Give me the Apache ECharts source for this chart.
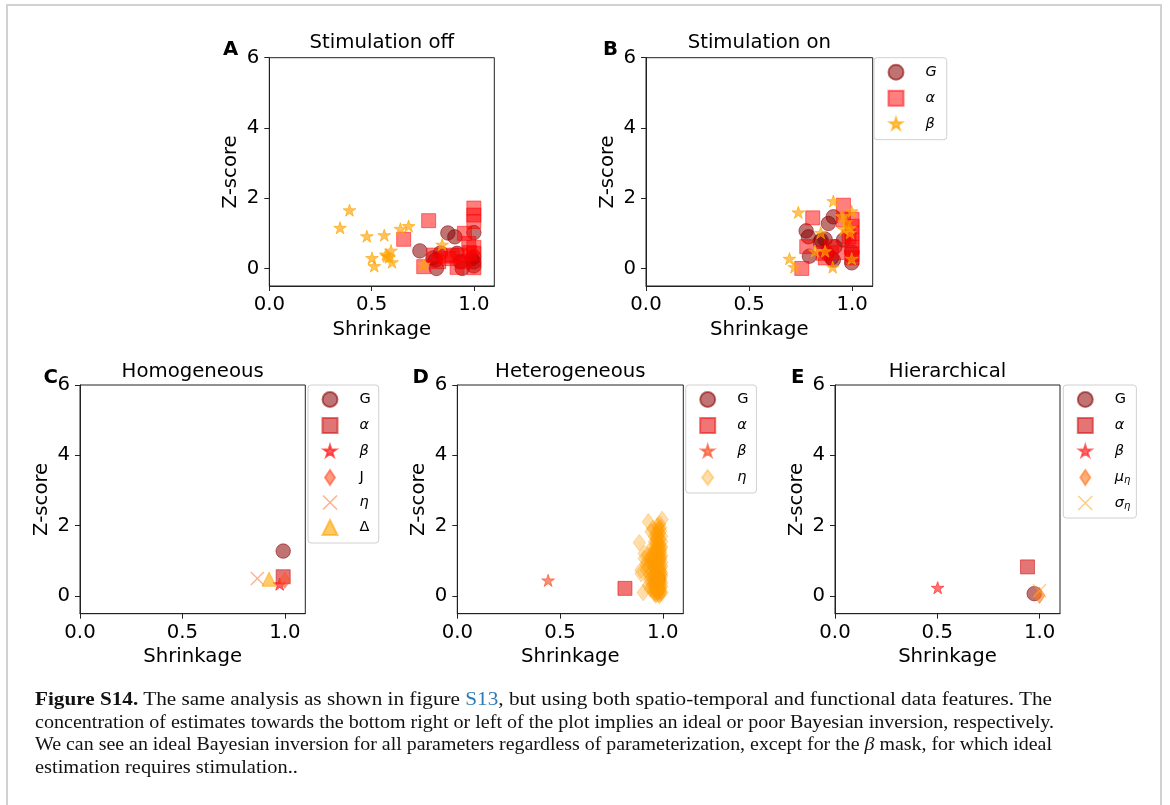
<!DOCTYPE html>
<html>
<head>
<meta charset="utf-8">
<script src="https://cdn.jsdelivr.net/npm/echarts@6/dist/echarts.min.js"></script>
<style>
  html, body { margin: 0; padding: 0; background: #fff; }
  #wrap { position: relative; width: 1170px; height: 805px; overflow: hidden; background: #fff; }
  #chart { position: absolute; left: 0; top: 0; width: 1170px; height: 805px; }
  #frame { position: absolute; left: 6px; top: 4px; width: 1156px; height: 840px;
           border: 2px solid #d2d2d2; box-sizing: border-box; pointer-events: none; }
  #caption { position: absolute; left: 35px; top: 688px; width: 1017px;
             font-family: "Liberation Serif", serif; font-size: 19.6px; line-height: 22.6px; color: #111; }
  #caption .ln { white-space: nowrap; height: 22.6px; }
  #caption .ln span.t { display: inline-block; transform-origin: 0 50%; }
  #caption b { font-weight: bold; }
  #caption .ref { color: #2a7ab5; }
</style>
</head>
<body>
<div id="wrap">
  <div id="chart"></div>
  <div id="frame"></div>
  <div id="caption">
    <div class="ln"><span class="t" data-w="1017"><b>Figure S14.</b> The same analysis as shown in figure <span class="ref">S13</span>, but using both spatio-temporal and functional data features. The</span></div>
    <div class="ln"><span class="t" data-w="1019">concentration of estimates towards the bottom right or left of the plot implies an ideal or poor Bayesian inversion, respectively.</span></div>
    <div class="ln"><span class="t" data-w="1017">We can see an ideal Bayesian inversion for all parameters regardless of parameterization, except for the <i>β</i> mask, for which ideal</span></div>
    <div class="ln"><span class="t">estimation requires stimulation..</span></div>
  </div>
</div>
<script>
// ---- data: [shrinkage, z-score] per parameter ----
const A_G = [[0.736,0.50],[0.873,1.01],[0.907,0.90],[1.0,1.02],[0.812,0.24],[0.817,0.0],[0.837,0.44],[0.935,0.19],[0.943,0.0],[1.0,0.33],[1.0,0.07],[1.0,0.19],[0.918,0.43],[0.80,0.30],[0.99,0.28]];
const A_alpha = [[0.779,1.36],[0.657,0.83],[1.0,1.72],[1.0,1.52],[1.0,1.33],[0.954,1.0],[0.975,0.71],[1.0,0.60],[1.0,0.43],[1.0,0.02],[0.755,0.05],[0.804,0.38],[0.861,0.35],[0.894,0.38],[0.935,0.38],[0.918,0.03],[0.95,0.19],[0.828,0.19],[0.877,0.28],[0.98,0.45]];
const A_beta = [[0.392,1.64],[0.346,1.14],[0.477,0.90],[0.562,0.93],[0.641,1.11],[0.681,1.19],[0.502,0.28],[0.513,0.05],[0.575,0.33],[0.595,0.49],[0.60,0.16],[0.57,0.38],[0.585,0.30],[0.845,0.66],[0.755,0.09]];

const B_G = [[0.777,1.07],[0.788,0.90],[0.909,1.47],[0.885,1.28],[0.869,0.83],[0.845,0.76],[0.793,0.35],[0.909,0.24],[0.958,0.81],[0.998,0.16],[0.998,0.47],[0.877,0.43],[0.917,0.62],[0.85,0.80],[0.90,0.30]];
const B_alpha = [[0.756,0.0],[0.809,1.44],[0.958,1.80],[1.0,1.40],[1.0,1.20],[1.0,1.0],[1.0,0.80],[1.0,0.60],[1.0,0.40],[1.0,0.30],[0.78,0.62],[0.86,0.43],[0.90,0.62],[0.958,1.38],[0.93,0.45],[0.985,0.90],[0.87,0.30]];
const B_beta = [[0.739,1.58],[0.696,0.26],[0.72,0.02],[0.909,1.90],[0.906,0.02],[0.998,1.61],[0.95,1.47],[0.99,1.14],[0.99,1.0],[0.998,0.26],[0.82,0.47],[0.869,0.47],[0.848,1.0],[0.97,1.30],[0.96,1.10]];

const C_G = [[0.992,1.28]];
const C_alpha = [[0.992,0.55]];
const C_beta = [[0.975,0.32]];
const C_J = [[1.0,0.45]];
const C_eta = [[0.866,0.50]];
const C_Delta = [[0.923,0.48]];

const D_G = [[0.976,0.50]];
const D_alpha = [[0.816,0.22]];
const D_beta = [[0.442,0.43]];
const D_eta = [[0.886,1.52],[0.93,2.11],[0.997,2.18],[0.905,0.10],[0.894,0.64],[0.951,1.92],[0.984,1.92],[0.91,1.07],[0.927,1.17],[0.951,1.26],[0.935,0.60],[0.96,0.22],[0.984,0.02],[0.943,1.83],[0.984,1.78],[0.91,1.21],[0.894,0.74],[0.919,0.88],[0.943,1.07],[0.935,0.45],[0.96,0.08],
  [0.97,1.65],[0.975,1.50],[0.98,1.40],[0.99,1.32],[0.965,1.20],[0.985,1.15],[0.99,1.05],[0.97,0.98],[0.995,0.95],[0.96,0.90],[0.975,0.85],[0.99,0.80],[0.98,0.75],[0.965,0.70],[0.995,0.66],[0.97,0.60],[0.985,0.55],[0.99,0.50],[0.975,0.45],[0.96,0.40],[0.995,0.38],[0.98,0.33],[0.97,0.28],[0.99,0.24],[0.985,0.18],[0.975,0.14],[0.995,0.10],[0.98,0.05],[0.965,0.12],
  [0.95,1.00],[0.955,0.80],[0.945,0.70],[0.95,0.55],[0.955,0.35],[0.94,0.95],[0.93,0.85],[0.925,1.00],[0.92,0.75],[0.93,0.30],[0.94,0.20],[0.95,1.40],[0.96,1.55],[0.965,1.85],[0.975,2.00],[0.99,1.95],[0.995,1.70],[0.985,1.60],[0.97,1.35],[0.99,1.25],[0.96,1.10],[0.98,0.92],[0.97,0.70],[0.99,0.62],[0.96,0.52],[0.985,0.42],[0.975,0.30],[0.99,0.15],[0.965,0.03],[0.98,1.05],[0.995,0.85],[0.97,0.20],
  [0.97,1.75],[0.98,1.70],[0.99,1.85],[0.965,1.45],[0.985,1.48],[0.995,1.40],[0.97,1.25],[0.98,1.20],[0.96,1.30],[0.99,1.10],[0.975,1.05],[0.965,0.95],[0.985,0.98],[0.995,1.15],[0.975,0.90],[0.96,0.78],[0.98,0.82],[0.99,0.72],[0.97,0.65],[0.985,0.68],[0.995,0.58],[0.965,0.58],[0.975,0.52],[0.98,0.48],[0.99,0.44],[0.97,0.40],[0.96,0.30],[0.985,0.36],[0.995,0.28],[0.975,0.22],[0.965,0.18],[0.98,0.12],[0.99,0.08],[0.97,0.06],[0.985,0.25],[0.955,0.60],[0.955,1.20],[0.95,0.88],[0.945,1.15],[0.94,0.50],[0.945,0.30],[0.955,0.15],[0.985,2.05],[0.975,1.88],[0.96,1.70],[0.995,1.55],[0.97,1.58],[0.98,1.30],[0.99,1.38],[0.965,1.02]];

const E_G = [[0.974,0.07]];
const E_alpha = [[0.941,0.83]];
const E_beta = [[0.502,0.22]];
const E_mu = [[1.0,0.02]];
const E_sigma = [[1.0,0.15]];

const xTicks = [0, 0.5, 1.0];
const yTicks = [0, 2, 4, 6];

// ---- marker shapes ----
// five-pointed star centred on its circumcircle, with a little empty margin
function starPath() {
  const pts = [];
  for (let i = 0; i < 10; i++) {
    const r = i % 2 ? 19.1 : 50;
    const a = -Math.PI / 2 + i * Math.PI / 5;
    pts.push((50 + r * Math.cos(a)).toFixed(2) + ',' + (50 + r * Math.sin(a)).toFixed(2));
  }
  return 'path://M-8,-8 M108,108 M' + pts.join(' L') + ' Z';
}
const STAR = starPath();
const DIAMOND = 'path://M5,0 L10,7.5 L5,15 L0,7.5 Z';
const DIAMOND_W = 'path://M6,0 L12,8 L6,16 L0,8 Z';
const XMARK = 'path://M0,0.9 L0.9,0 L7,6.1 L13.1,0 L14,0.9 L7.9,7 L14,13.1 L13.1,14 L7,7.9 L0.9,14 L0,13.1 L6.1,7 Z';

const FONT = 'DejaVu Sans';
const FS = 19.7;

// panel rectangles (axes area)
const panels = [
  {left: 269.3, top: 57.7, width: 225, height: 228.3, title: 'Stimulation off'},
  {left: 646,   top: 57.7, width: 226.7, height: 228.3, title: 'Stimulation on'},
  {left: 80,    top: 385, width: 225.3, height: 228.7, title: 'Homogeneous'},
  {left: 457.3, top: 385, width: 226, height: 228.7, title: 'Heterogeneous'},
  {left: 835,   top: 385, width: 225, height: 228.7, title: 'Hierarchical'}
];

const grids = [], xAxes = [], yAxes = [], graphics = [];
panels.forEach((p, i) => {
  grids.push({left: p.left, top: p.top, width: p.width, height: p.height, show: true,
              borderColor: '#222', borderWidth: 1, backgroundColor: 'transparent'});
  xAxes.push({
    gridIndex: i, type: 'value', min: 0, max: 1.1,
    name: 'Shrinkage', nameLocation: 'middle', nameGap: 33.5,
    nameTextStyle: {fontFamily: FONT, fontSize: FS, color: '#000'},
    axisLine: {show: true, onZero: false, lineStyle: {color: '#222', width: 1}},
    axisTick: {show: true, length: 5, customValues: xTicks, lineStyle: {color: '#222', width: 1}},
    axisLabel: {customValues: xTicks, margin: 9, fontFamily: FONT, fontSize: FS, color: '#000',
                formatter: v => v.toFixed(1)},
    splitLine: {show: false}
  });
  yAxes.push({
    gridIndex: i, type: 'value', min: -0.5, max: 6,
    name: 'Z-score', nameLocation: 'middle', nameGap: 28, nameRotate: 90,
    nameTextStyle: {fontFamily: FONT, fontSize: FS, color: '#000'},
    axisLine: {show: true, onZero: false, lineStyle: {color: '#222', width: 1}},
    axisTick: {show: true, length: 5, customValues: yTicks, lineStyle: {color: '#222', width: 1}},
    axisLabel: {customValues: yTicks, margin: 10, fontFamily: FONT, fontSize: FS, color: '#000'},
    splitLine: {show: false}
  });
  const titleBase = i < 2 ? 50 : 378.3;
  graphics.push({type: 'text', x: p.left + p.width / 2, y: titleBase - 0.346 * FS,
    style: {text: p.title, fontFamily: FONT, fontSize: FS, fill: '#000',
            align: 'center', verticalAlign: 'middle', textAlign: 'center', textVerticalAlign: 'middle'}});
});
// panel letters
[['A', 223, 56.7], ['B', 603, 56.7], ['C', 43.5, 385], ['D', 412.5, 385], ['E', 791, 385]].forEach(t => {
  graphics.push({type: 'text', x: t[1], y: t[2] - 0.346 * FS,
    style: {text: t[0], fontFamily: FONT, fontSize: FS, fontWeight: 'bold', fill: '#000',
            align: 'left', verticalAlign: 'middle', textAlign: 'left', textVerticalAlign: 'middle'}});
});

// ---- series ----
const series = [];
function sc(name, idx, data, symbol, size, color, opts) {
  opts = opts || {};
  series.push({
    type: 'scatter', name: name, xAxisIndex: idx, yAxisIndex: idx, data: data,
    symbol: symbol, symbolSize: size, symbolKeepAspect: true,
    itemStyle: {color: color, borderColor: opts.stroke === false ? 'transparent' : color,
                borderWidth: opts.stroke === false ? 0 : 1, opacity: 1},
    emphasis: {disabled: true}, silent: true, animation: false
  });
}
const cDark = 'rgba(139,0,0,0.55)';
const SS = 15.5; // star marker box

sc('A_G', 0, A_G, 'circle', 14.5, cDark);
sc('A_alpha', 0, A_alpha, 'rect', 14, 'rgba(255,0,0,0.5)');
sc('A_beta', 0, A_beta, STAR, SS, 'rgba(255,165,0,0.65)');

sc('B_G', 1, B_G, 'circle', 14.5, cDark);
sc('B_alpha', 1, B_alpha, 'rect', 14, 'rgba(255,0,0,0.5)');
sc('B_beta', 1, B_beta, STAR, SS, 'rgba(255,165,0,0.65)');

sc('C_G', 2, C_G, 'circle', 14.5, cDark);
sc('C_alpha', 2, C_alpha, 'rect', 14, 'rgba(205,25,25,0.6)');
sc('C_beta', 2, C_beta, STAR, SS, 'rgba(255,30,30,0.7)');
sc('C_J', 2, C_J, DIAMOND, 16, 'rgba(255,85,45,0.6)');
sc('C_eta', 2, C_eta, XMARK, 14, 'rgba(255,120,60,0.6)', {stroke: false});
sc('C_Delta', 2, C_Delta, 'triangle', 14, 'rgba(255,165,0,0.6)');

sc('D_G', 3, D_G, 'circle', 14.5, cDark);
sc('D_alpha', 3, D_alpha, 'rect', 14, 'rgba(232,25,25,0.6)');
sc('D_beta', 3, D_beta, STAR, SS, 'rgba(250,80,40,0.65)');
sc('D_eta', 3, D_eta, DIAMOND_W, 16.5, 'rgba(255,155,0,0.33)');

sc('E_G', 4, E_G, 'circle', 14.5, cDark);
sc('E_alpha', 4, E_alpha, 'rect', 14, 'rgba(210,25,25,0.6)');
sc('E_beta', 4, E_beta, STAR, SS, 'rgba(255,40,40,0.65)');
sc('E_mu', 4, E_mu, DIAMOND, 16, 'rgba(255,120,30,0.6)');
sc('E_sigma', 4, E_sigma, XMARK, 14, 'rgba(255,170,40,0.6)', {stroke: false});

// ---- legends ----
const labels = {
  B_G: '{it|G}', B_alpha: '{it|α}', B_beta: '{it|β}',
  C_G: '{rm|G}', C_alpha: '{it|α}', C_beta: '{it|β}', C_J: '{rm|J}', C_eta: '{it|η}', C_Delta: '{rm|Δ}',
  D_G: '{rm|G}', D_alpha: '{it|α}', D_beta: '{it|β}', D_eta: '{it|η}',
  E_G: '{rm|G}', E_alpha: '{it|α}', E_beta: '{it|β}', E_mu: '{it|μ}{sub|η}', E_sigma: '{it|σ}{sub|η}'
};
const rich = {
  rm: {fontFamily: FONT, fontSize: 14.5, color: '#000', lineHeight: 16},
  it: {fontFamily: FONT, fontSize: 14.5, fontStyle: 'italic', color: '#000', lineHeight: 16},
  sub: {fontFamily: FONT, fontSize: 10, fontStyle: 'italic', color: '#000', lineHeight: 16, verticalAlign: 'bottom', padding: [6, 0, 0, 0]}
};
function legend(names, left, top, padRight, padBottom) {
  return {
    data: names, left: left, top: top, orient: 'vertical',
    itemWidth: 15, itemHeight: 15, itemGap: 9, selectedMode: false,
    padding: [6, padRight, padBottom, 13.5],
    backgroundColor: 'rgba(255,255,255,0.8)', borderColor: '#d0d0d0', borderWidth: 1, borderRadius: 3,
    formatter: n => labels[n],
    textStyle: {fontFamily: FONT, fontSize: 14.5, color: '#000', padding: [0, 0, 0, 17], rich: rich}
  };
}

const option = {
  backgroundColor: '#fff',
  animation: false,
  grid: grids, xAxis: xAxes, yAxis: yAxes, series: series,
  legend: [
    legend(['B_G', 'B_alpha', 'B_beta'], 874, 57.7, 10, 7),
    legend(['C_G', 'C_alpha', 'C_beta', 'C_J', 'C_eta', 'C_Delta'], 308, 385, 8, 7),
    legend(['D_G', 'D_alpha', 'D_beta', 'D_eta'], 685.7, 385, 8, 7),
    legend(['E_G', 'E_alpha', 'E_beta', 'E_mu', 'E_sigma'], 1063.3, 385, 6, 7)
  ],
  graphic: graphics
};

const chart = echarts.init(document.getElementById('chart'), null, {renderer: 'canvas'});
chart.setOption(option);

// stretch the caption lines horizontally to the measured column width
function fitCaption() {
  const spans = Array.from(document.querySelectorAll('#caption span.t'));
  let scales = [];
  spans.forEach(s => {
    s.style.transform = 'none';
    const target = parseFloat(s.dataset.w || '0');
    if (target) {
      const k = target / s.getBoundingClientRect().width;
      scales.push(k);
      s.style.transform = 'scaleX(' + k + ')';
    }
  });
  const avg = scales.reduce((a, b) => a + b, 0) / scales.length;
  spans.forEach(s => { if (!s.dataset.w) s.style.transform = 'scaleX(' + avg + ')'; });
}
fitCaption();
if (document.fonts && document.fonts.ready) document.fonts.ready.then(fitCaption);
</script>
</body>
</html>
